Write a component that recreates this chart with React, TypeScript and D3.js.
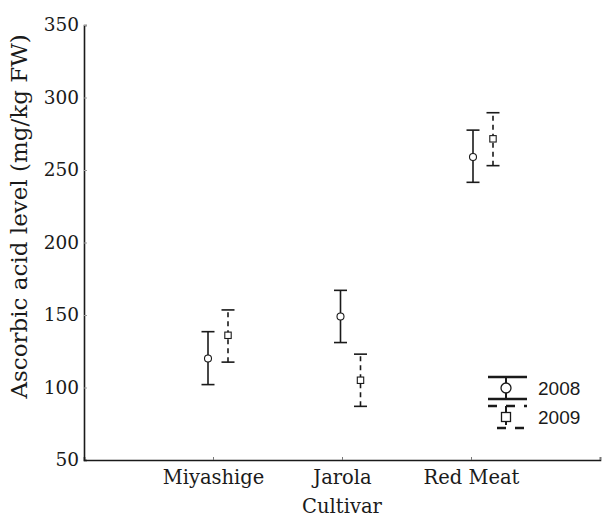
import React, { useEffect, useRef } from 'react';
import * as d3 from 'd3';

// cultivars on the x axis
const categories = ['Miyashige', 'Jarola', 'Red Meat'];
const yTicks = [50, 100, 150, 200, 250, 300, 350];

// 2008 mean with lower / upper bounds
const mean2008 = [120, 149, 259];
const low2008 = [102, 131, 241.5];
const high2008 = [138.5, 167, 277.5];

// 2009 mean with lower / upper bounds
const mean2009 = [136, 105, 271.5];
const low2009 = [117.5, 87, 253];
const high2009 = [153.5, 123, 289.5];

const years = ['2008', '2009'];

const App = () => {
  const svgRef = useRef<SVGSVGElement>(null);

  const width = 616;
  const height = 518;
  const margin = { top: 25, right: 16, bottom: 58, left: 84 };
  const innerW = width - margin.left - margin.right;
  const innerH = height - margin.top - margin.bottom;

  useEffect(() => {
    const root = d3.select(svgRef.current);
    root.selectAll('*').remove();

    const svg = root
      .attr('width', width)
      .attr('height', height)
      .append('g')
      .attr('transform', `translate(${margin.left},${margin.top})`);

    const ink = '#1a1a1a';
    const serif = '"DejaVu Serif", serif';

    // axis scales
    const xScale = d3.scaleLinear().domain([0, 4]).range([0, innerW]);
    const yScale = d3.scaleLinear().domain([50, 350]).range([innerH, 0]);

    // group positions for the marks (a little right of the ticks)
    const groupX = d3
      .scalePoint()
      .domain(categories)
      .range([xScale(1) + 5, xScale(3) + 12]);
    const yearOffset = d3.scaleOrdinal<string, number>().domain(years).range([-10, 10]);

    // y axis
    const yAxis = svg
      .append('g')
      .call(d3.axisLeft(yScale).tickValues(yTicks).tickSize(-3).tickPadding(5).tickFormat(d3.format('d')));
    yAxis.select('.domain').attr('stroke', ink).attr('stroke-width', 1.6);
    yAxis.selectAll('.tick line').attr('stroke', '#999');
    yAxis
      .selectAll('.tick text')
      .attr('fill', ink)
      .style('font-family', serif)
      .style('font-size', '18.5px');

    // x axis
    const xAxis = svg
      .append('g')
      .attr('transform', `translate(0,${innerH})`)
      .call(
        d3
          .axisBottom(xScale)
          .tickValues([1, 2, 3, 4])
          .tickSize(-3)
          .tickPadding(10)
          .tickFormat((d) => categories[(d as number) - 1] ?? '')
      );
    xAxis.select('.domain').attr('stroke', ink).attr('stroke-width', 1.6);
    xAxis.selectAll('.tick line').attr('stroke', '#777');
    xAxis
      .selectAll('.tick text')
      .attr('fill', ink)
      .style('font-family', serif)
      .style('font-size', '19.5px');

    // axis titles
    svg
      .append('text')
      .attr('x', xScale(2))
      .attr('y', innerH + 53)
      .attr('text-anchor', 'middle')
      .attr('fill', ink)
      .style('font-family', serif)
      .style('font-size', '19.5px')
      .text('Cultivar');

    svg
      .append('text')
      .attr('transform', `translate(${-margin.left + 27},${yScale(218)}) rotate(-90)`)
      .attr('text-anchor', 'middle')
      .attr('fill', ink)
      .style('font-family', serif)
      .style('font-size', '23px')
      .text('Ascorbic acid level (mg/kg FW)');

    const series = [
      { year: '2008', mean: mean2008, low: low2008, high: high2008, dash: null, shape: 'circle' },
      { year: '2009', mean: mean2009, low: low2009, high: high2009, dash: '5,4', shape: 'square' },
    ];

    const cap = 6.5;

    series.forEach((s) => {
      const g = svg.append('g');
      categories.forEach((c, i) => {
        const cx = (groupX(c) as number) + yearOffset(s.year);

        g.append('line')
          .attr('x1', cx)
          .attr('x2', cx)
          .attr('y1', yScale(s.low[i]))
          .attr('y2', yScale(s.high[i]))
          .attr('stroke', ink)
          .attr('stroke-width', 1.6)
          .attr('stroke-dasharray', s.dash);
        [s.low[i], s.high[i]].forEach((v) => {
          g.append('line')
            .attr('x1', cx - cap)
            .attr('x2', cx + cap)
            .attr('y1', yScale(v))
            .attr('y2', yScale(v))
            .attr('stroke', ink)
            .attr('stroke-width', 1.6);
        });
        if (s.shape === 'circle') {
          g.append('circle')
            .attr('cx', cx)
            .attr('cy', yScale(s.mean[i]))
            .attr('r', 3.5)
            .attr('fill', 'white')
            .attr('stroke', ink)
            .attr('stroke-width', 1.1);
        } else {
          g.append('rect')
            .attr('x', cx - 3.2)
            .attr('y', yScale(s.mean[i]) - 3.2)
            .attr('width', 6.4)
            .attr('height', 6.4)
            .attr('fill', 'white')
            .attr('stroke', ink)
            .attr('stroke-width', 1.1);
        }
      });
    });

    // legend
    const legend = svg.append('g').attr('transform', `translate(${innerW - 112},${innerH - 83})`);
    series.forEach((s, i) => {
      const gy = i * 29;
      const lg = legend.append('g').attr('transform', `translate(0,${gy})`);
      const lx = 18;
      lg.append('line')
        .attr('x1', lx)
        .attr('x2', lx)
        .attr('y1', 0)
        .attr('y2', 22)
        .attr('stroke', ink)
        .attr('stroke-width', 2)
        .attr('stroke-dasharray', s.dash ? '7,5' : null);
      [0, 22].forEach((yy, k) => {
        lg.append('line')
          .attr('x1', 0)
          .attr('x2', 39)
          .attr('y1', yy)
          .attr('y2', yy)
          .attr('stroke', ink)
          .attr('stroke-width', 2.4)
          .attr('stroke-dasharray', s.dash ? '9,9' : null)
          .attr('stroke-dashoffset', s.dash && k === 1 ? 9 : 0);
      });
      if (s.shape === 'circle') {
        lg.append('circle')
          .attr('cx', lx)
          .attr('cy', 11)
          .attr('r', 5)
          .attr('fill', 'white')
          .attr('stroke', ink)
          .attr('stroke-width', 1.3);
      } else {
        lg.append('rect')
          .attr('x', lx - 4.5)
          .attr('y', 6.5)
          .attr('width', 9)
          .attr('height', 9)
          .attr('fill', 'white')
          .attr('stroke', ink)
          .attr('stroke-width', 1.3);
      }
      lg.append('text')
        .attr('x', 50)
        .attr('y', 11)
        .attr('dy', '0.35em')
        .attr('fill', ink)
        .style('font-family', '"Liberation Sans", Arial, sans-serif')
        .style('font-size', '19px')
        .text(s.year);
    });
  }, []);

  return <svg ref={svgRef} style={{ position: 'absolute', left: 0, top: 0 }} />;
};

export default App;
